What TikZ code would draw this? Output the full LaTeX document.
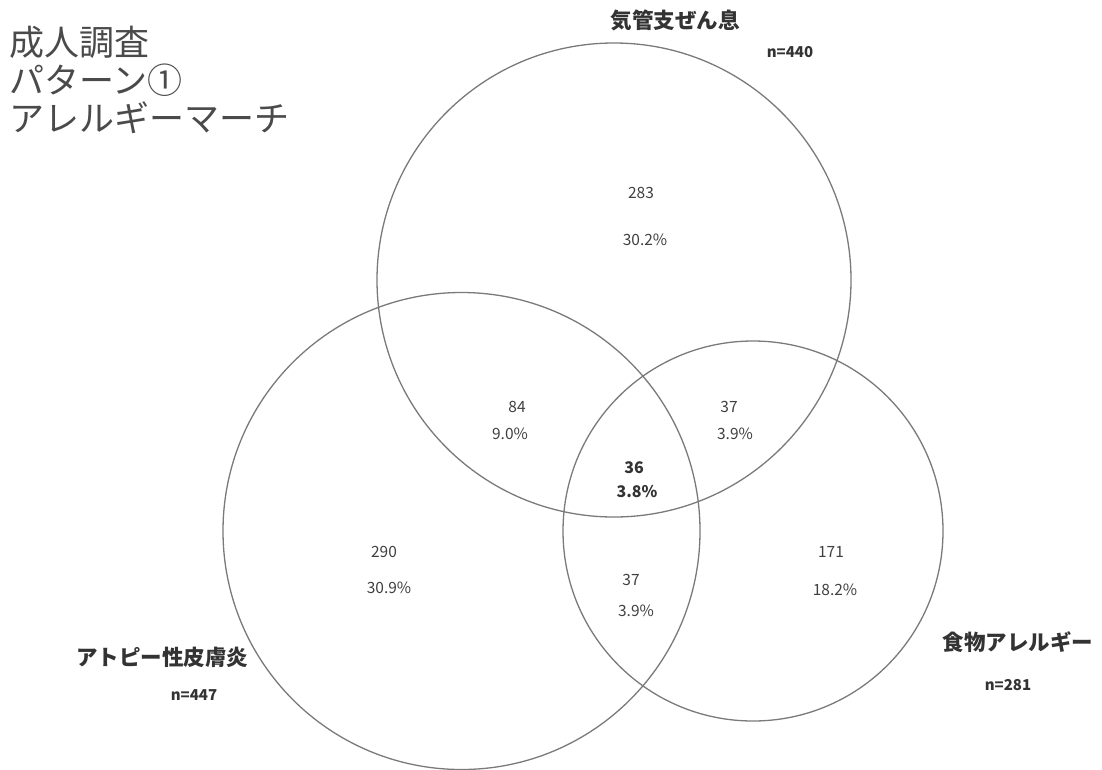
\documentclass[tikz,border=0pt]{standalone}
\usepackage{fontspec}
\setmainfont{Noto Sans CJK JP}
\definecolor{linegray}{HTML}{7A7A7A}
\definecolor{txtgray}{HTML}{404040}
\definecolor{titlegray}{HTML}{4A4A4A}
\definecolor{lblgray}{HTML}{333333}
\tikzset{
  venn/.style={circle, draw=linegray, line width=1.3pt, inner sep=0pt},
  titletext/.style={anchor=west, inner sep=0pt, text=titlegray, font=\fontsize{35}{38}\selectfont},
  setlabel/.style={inner sep=0pt, text=lblgray, font=\fontsize{21.5}{24}\selectfont\bfseries},
  nlabel/.style={inner sep=0pt, text=lblgray, font=\fontsize{15}{18}\selectfont\bfseries},
  num/.style={inner sep=0pt, text=txtgray, font=\fontsize{15.5}{18}\selectfont},
  numb/.style={inner sep=0pt, text=lblgray, font=\fontsize{16}{18}\selectfont\bfseries}
}
\begin{document}
\begin{tikzpicture}[x=1pt, y=-1pt]
\useasboundingbox[fill=white] (0,0) rectangle (1102,769);
% circles
\node[venn, minimum size=474pt] (asthma) at (614,280) {};
\node[venn, minimum size=477pt] (atopy) at (461.5,531) {};
\node[venn, minimum size=380pt] (food) at (753,531) {};
% title
\node[titletext] (t1) at (9,42) {成人調査};
\node[titletext] (t2) at (9,80) {パターン①};
\node[titletext] (t3) at (9,118) {アレルギーマーチ};
% set labels
\node[setlabel] (lA) at (675,20) {気管支ぜん息};
\node[nlabel] (nA) at (790,52) {n=440};
\node[setlabel] (lB) at (162,657) {アトピー性皮膚炎};
\node[nlabel] (nB) at (194,695) {n=447};
\node[setlabel] (lC) at (1018,642) {食物アレルギー};
\node[nlabel] (nC) at (1008,685) {n=281};
% region counts
\node[num] (a1) at (641,193) {283};
\node[num] (a2) at (645,240) {30.2\%};
\node[num] (ab1) at (517,407) {84};
\node[num] (ab2) at (510,434) {9.0\%};
\node[num] (ac1) at (729,407) {37};
\node[num] (ac2) at (735,434) {3.9\%};
\node[numb] (abc1) at (634,468) {36};
\node[numb] (abc2) at (637,492) {3.8\%};
\node[num] (b1) at (384,552) {290};
\node[num] (b2) at (389,588) {30.9\%};
\node[num] (bc1) at (631,580) {37};
\node[num] (bc2) at (636,611) {3.9\%};
\node[num] (c1) at (831,552) {171};
\node[num] (c2) at (835,590) {18.2\%};
\end{tikzpicture}
\end{document}
